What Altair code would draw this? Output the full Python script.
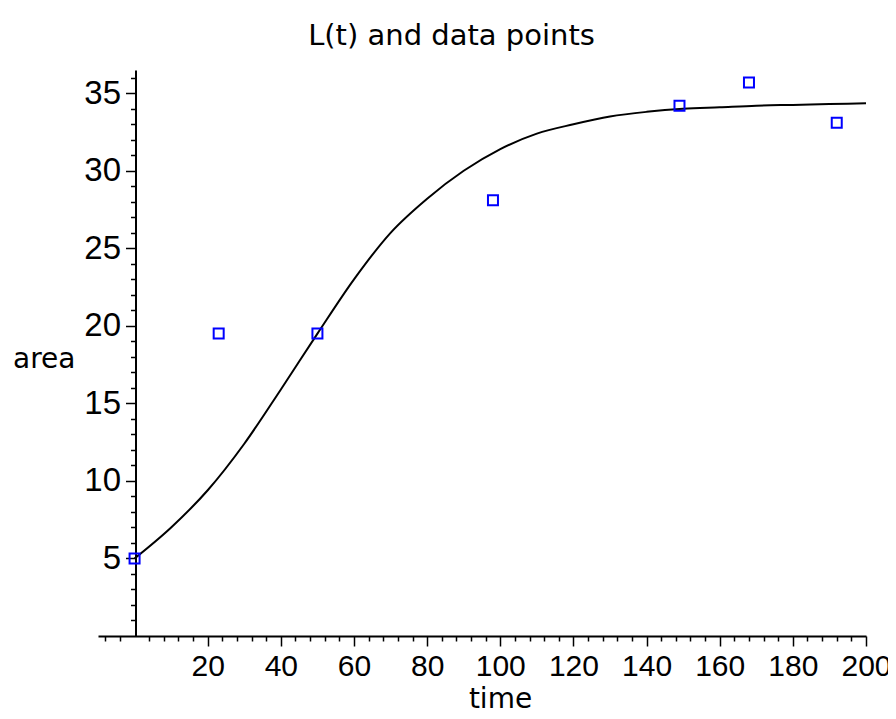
import altair as alt
import pandas as pd

t_obs = [0, 23, 50, 98, 149, 168, 192]
area_obs = [5.0, 19.5, 19.5, 28.1, 34.2, 35.7, 33.1]

# fitted curve L(t)
t_fit = [0, 10, 20, 30, 40, 50, 60, 70, 80, 90, 100, 110, 120, 130, 140,
         150, 160, 170, 180, 190, 200]
L_fit = [5.0, 7.0, 9.4, 12.4, 15.9, 19.5, 23.0, 26.0, 28.2, 30.0, 31.4,
         32.4, 33.0, 33.5, 33.8, 34.0, 34.1, 34.2, 34.25, 34.3, 34.35]

# tick positions
x_major = [20, 40, 60, 80, 100, 120, 140, 160, 180, 200]
x_minor = [-8, -4] + [v for v in range(4, 201, 4) if v % 20]
y_major = [5, 10, 15, 20, 25, 30, 35]
y_minor = [v for v in range(1, 37) if v % 5]

LABEL_FONT = "Liberation Sans"
TITLE_FONT = "DejaVu Sans"

fit_df = pd.DataFrame({"t": t_fit, "L": L_fit})
obs_df = pd.DataFrame({"t": t_obs, "area": area_obs})

xscale = alt.Scale(domain=[-10, 200], nice=False, zero=False)
yscale = alt.Scale(domain=[0, 36.5], nice=False, zero=False)

common = dict(grid=False, domainColor="black", tickColor="black",
              labelColor="black", titleColor="black")

x_axis_major = alt.Axis(
    values=x_major, orient="bottom", tickSize=10, tickWidth=1.5, domainWidth=2,
    labelFont=LABEL_FONT, labelFontSize=30, labelPadding=5,
    labelFlush=False, labelOverlap=False, title="time", titleFont=TITLE_FONT,
    titleFontSize=28, titleFontWeight="normal", titleX=402, titleY=71,
    titleBaseline="alphabetic", titleAlign="center", **common)
y_axis_major = alt.Axis(
    values=y_major, orient="left", offset=-37.5, tickSize=10, tickWidth=1.5,
    domainWidth=2, labelFont=LABEL_FONT, labelFontSize=33, labelPadding=5,
    labelFlush=False, labelOverlap=False, title="area", titleFont=TITLE_FONT,
    titleFontSize=28, titleFontWeight="normal", titleAngle=0, titleAlign="right",
    titleX=-60.5, titleY=297, titleBaseline="alphabetic", **common)

x_axis_minor = alt.Axis(values=x_minor, orient="bottom", tickSize=5, tickWidth=1.5,
                        domain=False, labels=False, title="", **common)
y_axis_minor = alt.Axis(values=y_minor, orient="left", offset=-37.5, tickSize=5,
                        tickWidth=1.5, domain=False, labels=False, title="", **common)

line = alt.Chart(fit_df).mark_line(
    color="black", strokeWidth=2, interpolate="monotone"
).encode(
    x=alt.X("t:Q", scale=xscale, axis=x_axis_major),
    y=alt.Y("L:Q", scale=yscale, axis=y_axis_major),
)

points = alt.Chart(obs_df).mark_point(
    shape="square", filled=False, color="#0000ff", size=100, strokeWidth=2, opacity=1
).encode(
    x=alt.X("t:Q", scale=xscale, axis=x_axis_minor),
    y=alt.Y("area:Q", scale=yscale, axis=y_axis_minor),
)

chart = alt.layer(line, points).resolve_axis(
    x="independent", y="independent"
).properties(
    width=768,
    height=566,
    padding={"left": 90, "top": 62, "right": 22, "bottom": 72},
    autosize=alt.AutoSizeParams(type="none"),
    title=alt.TitleParams(
        "L(t) and data points", font=TITLE_FONT, fontSize=29, fontWeight="normal",
        color="black", anchor="middle", dx=-30.5, offset=-4, baseline="alphabetic"),
).configure_view(stroke=None)

chart.save("out.html", embed_options={"renderer": "svg", "actions": False})
